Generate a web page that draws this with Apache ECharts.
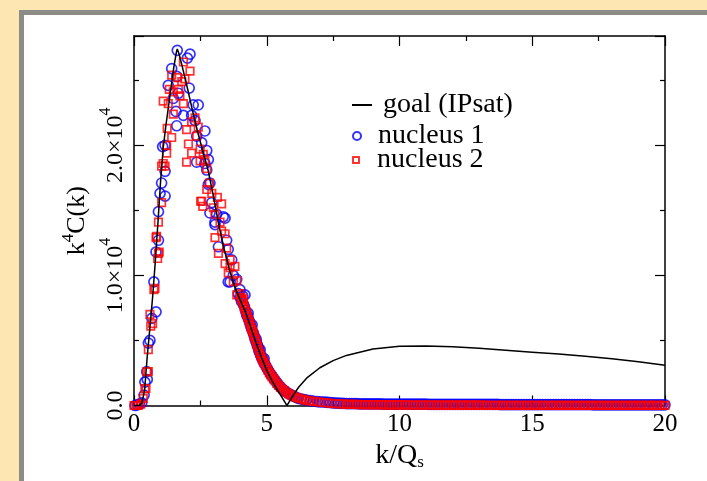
<!DOCTYPE html>
<html>
<head>
<meta charset="utf-8">
<script src="https://cdn.jsdelivr.net/npm/echarts@6/dist/echarts.min.js"></script>
<style>
html,body{margin:0;padding:0;background:#fee6b3;}
#chart{width:707px;height:481px;}
</style>
</head>
<body>
<div id="chart"></div>
<script>
// values in units of 10^4
const xTicks = [0, 5, 10, 15, 20];
const yTicks = [0, 1, 2];

const goalK = [0,0.2,0.3,0.4,0.5,0.6,0.7,0.8,0.9,1.0,1.1,1.2,1.3,1.4,1.5,1.6,1.63,1.7,1.8,2.0,2.2,2.4,2.6,2.8,3.0,3.2,3.4,3.6,3.8,4.0,4.2,4.4,4.6,4.8,5.0,5.2,5.4,5.55,5.7,5.76,5.85,6.0,6.2,6.5,7.0,7.5,8.0,9.0,10,11,12,13,14,15,16,17,18,19,20];
const goalV = [0,0,0.02,0.12,0.38,0.60,0.83,1.10,1.40,1.72,1.98,2.15,2.30,2.45,2.60,2.72,2.74,2.70,2.62,2.45,2.27,2.10,1.95,1.80,1.60,1.38,1.20,1.04,0.91,0.81,0.72,0.60,0.48,0.37,0.27,0.19,0.12,0.07,0.02,0.0,0.03,0.08,0.14,0.21,0.29,0.345,0.385,0.435,0.455,0.458,0.452,0.44,0.425,0.41,0.395,0.378,0.36,0.337,0.31];

const nucleus1Pts = [
[0.04,0.0],[0.12,0.005],[0.2,0.01],[0.29,0.02],[0.38,0.08],[0.41,0.18],[0.48,0.26],[0.50,0.20],[0.54,0.48],[0.60,0.50],
[0.67,0.67],[0.75,0.95],[0.83,0.72],[0.83,1.18],[0.92,1.27],[0.92,1.49],[0.98,1.63],[1.04,1.71],[1.08,1.99],[1.17,1.61],
[1.17,1.80],[1.17,2.0],[1.29,2.46],[1.42,2.59],[1.48,2.36],[1.58,2.26],[1.61,2.53],[1.61,2.15],[1.63,2.73],[1.67,2.40],
[1.86,2.23],[2.01,2.67],[2.08,2.44],[2.11,2.70],[2.17,2.23],[2.23,2.31],[2.30,2.19],[2.36,2.07],[2.36,1.87],[2.42,2.31],
[2.55,2.02],[2.67,2.11],[2.67,1.86],[2.74,1.96],[2.74,1.81],[2.80,1.89],[2.80,1.70],[2.86,1.71],[2.86,1.48],[2.93,1.56],
[3.05,1.41],[3.05,1.39],[3.11,1.47],[3.18,1.22],[3.36,1.45],[3.43,1.44],[3.49,1.27],[3.55,1.20],[3.55,0.95],[3.62,0.95],
[3.68,1.12],[3.74,1.0],[3.87,0.97],[3.99,0.89],[4.18,0.85],
[3.93,0.86],[4.0,0.83],[4.05,0.80],[4.1,0.84],[4.12,0.78],[4.16,0.76],[4.2,0.73],[4.24,0.70],[4.27,0.69],[4.3,0.67],
[4.3,0.71],[4.34,0.65],[4.37,0.63],[4.4,0.61],[4.43,0.59],[4.45,0.62],[4.49,0.56],[4.52,0.54],[4.55,0.52],[4.58,0.50],
[4.6,0.51],[4.62,0.48],[4.65,0.46],[4.67,0.45],[4.7,0.43],[4.72,0.41],[4.75,0.43],[4.77,0.39],[4.8,0.37],[4.84,0.36],
[4.87,0.34],[4.9,0.36],[4.92,0.32],[4.95,0.31],[5.0,0.29],[5.06,0.27],[5.1,0.255],[5.15,0.24],[5.2,0.225],[5.25,0.21],
[5.3,0.195],[5.37,0.18],[5.43,0.16],[5.5,0.145],[5.57,0.13],[5.65,0.115],[5.73,0.105],[5.81,0.094],[5.9,0.083],[6.0,0.072],
[6.1,0.063],[6.19,0.055],[6.3,0.05],[6.4,0.045],[6.5,0.041],[6.63,0.037],[6.75,0.033],[6.9,0.030],[7.0,0.028],[7.1,0.027],
[7.2,0.026],[7.3,0.024],[7.4,0.022],[7.5,0.02],[7.6,0.019],[7.7,0.018],[7.8,0.017],[7.9,0.016]
];

const nucleus2Pts = [
[0.0,0.0],[0.08,0.0],[0.16,0.0],[0.25,0.01],[0.35,0.055],[0.41,0.13],[0.45,0.13],[0.48,0.26],[0.54,0.26],[0.54,0.43],
[0.60,0.70],[0.63,0.61],[0.70,0.63],[0.75,0.89],[0.79,0.90],[0.83,1.29],[0.85,1.30],[0.89,1.13],[0.92,1.17],[0.92,1.41],
[0.95,1.18],[1.04,1.56],[1.04,1.84],[1.10,1.86],[1.10,2.34],[1.17,1.84],[1.23,1.94],[1.23,2.0],[1.25,2.13],[1.29,2.32],
[1.33,2.43],[1.42,2.06],[1.42,2.54],[1.48,2.24],[1.48,2.41],[1.64,2.52],[1.67,2.43],[1.73,2.38],[1.80,2.49],[1.86,2.64],
[1.86,2.32],[1.92,2.51],[1.98,2.12],[1.98,1.87],[2.05,2.01],[2.11,2.57],[2.17,2.18],[2.17,1.94],[2.30,2.21],[2.36,2.07],
[2.42,2.14],[2.49,1.97],[2.49,1.88],[2.51,1.57],[2.55,1.57],[2.59,1.53],[2.61,1.93],[2.67,1.89],[2.74,1.82],[2.74,1.66],
[2.84,1.71],[2.93,1.63],[2.99,1.52],[3.05,1.47],[3.05,1.29],[3.14,1.60],[3.18,1.17],[3.24,1.41],[3.30,1.55],[3.30,1.34],
[3.43,1.32],[3.43,1.09],[3.49,1.21],[3.55,1.02],[3.62,1.12],[3.62,1.06],[3.74,0.95],[3.80,1.07],[3.87,0.96],[3.87,0.85],
[3.99,0.86],[4.12,0.82],
[4.03,0.83],[4.06,0.81],[4.1,0.785],[4.15,0.76],[4.18,0.74],[4.22,0.72],[4.25,0.70],[4.28,0.68],[4.32,0.66],[4.35,0.64],
[4.38,0.62],[4.41,0.60],[4.44,0.585],[4.47,0.57],[4.5,0.55],[4.53,0.53],[4.57,0.51],[4.6,0.49],[4.63,0.47],[4.66,0.45],
[4.7,0.425],[4.74,0.40],[4.78,0.38],[4.82,0.36],[4.86,0.345],[4.9,0.33],[4.95,0.31],[5.0,0.29],[5.05,0.27],[5.1,0.25],
[5.15,0.235],[5.2,0.22],[5.26,0.205],[5.32,0.19],[5.38,0.17],[5.45,0.155],[5.52,0.14],[5.6,0.125],[5.67,0.112],[5.75,0.10],
[5.83,0.09],[5.92,0.08],[6.0,0.07],[6.1,0.062],[6.2,0.056],[6.3,0.05],[6.4,0.045],[6.5,0.04],[6.62,0.036],[6.75,0.032],
[6.88,0.029],[7.0,0.026],[7.15,0.023],[7.3,0.02],[7.45,0.017],[7.6,0.015],[7.75,0.013],[7.9,0.012]
];

const tailK = [8.0,8.1,8.2,8.3,8.4,8.5,8.6,8.7,8.8,8.9,9.0,9.1,9.2,9.3,9.4,9.5,9.6,9.7,9.8,9.9,
10.0,10.1,10.2,10.3,10.4,10.5,10.6,10.7,10.8,10.9,11.0,11.1,11.2,11.3,11.4,11.5,11.6,11.7,11.8,11.9,
12.0,12.1,12.2,12.3,12.4,12.5,12.6,12.7,12.8,12.9,13.0,13.1,13.2,13.3,13.4,13.5,13.6,13.7,13.8,13.9,
14.0,14.1,14.2,14.3,14.4,14.5,14.6,14.7,14.8,14.9,15.0,15.1,15.2,15.3,15.4,15.5,15.6,15.7,15.8,15.9,
16.0,16.1,16.2,16.3,16.4,16.5,16.6,16.7,16.8,16.9,17.0,17.1,17.2,17.3,17.4,17.5,17.6,17.7,17.8,17.9,
18.0,18.1,18.2,18.3,18.4,18.5,18.6,18.7,18.8,18.9,19.0,19.1,19.2,19.3,19.4,19.5,19.6,19.7,19.8,19.9,20.0];
const tail1 = [0.015,0.015,0.014,0.014,0.014,0.013,0.013,0.013,0.013,0.012,0.012,0.012,0.012,0.012,0.011,0.011,0.011,0.011,0.011,0.011,
0.010,0.010,0.010,0.010,0.010,0.010,0.010,0.010,0.010,0.010,0.010,0.009,0.009,0.009,0.009,0.009,0.009,0.009,0.009,0.009,
0.009,0.009,0.009,0.008,0.008,0.008,0.008,0.008,0.008,0.008,0.008,0.008,0.008,0.008,0.008,0.008,0.008,0.008,0.007,0.007,
0.007,0.007,0.007,0.007,0.007,0.007,0.007,0.007,0.007,0.007,0.007,0.007,0.007,0.007,0.006,0.006,0.006,0.006,0.006,0.006,
0.006,0.006,0.006,0.006,0.006,0.006,0.006,0.006,0.006,0.006,0.006,0.006,0.006,0.005,0.005,0.005,0.005,0.005,0.005,0.005,
0.005,0.005,0.005,0.005,0.005,0.005,0.005,0.005,0.005,0.005,0.005,0.005,0.005,0.005,0.005,0.005,0.005,0.005,0.005,0.005,0.005];
const tail2 = [0.009,0.009,0.008,0.008,0.008,0.007,0.007,0.007,0.007,0.006,0.006,0.006,0.006,0.006,0.005,0.005,0.005,0.005,0.005,0.005,
0.005,0.005,0.005,0.004,0.004,0.004,0.004,0.004,0.004,0.004,0.004,0.004,0.004,0.004,0.004,0.003,0.003,0.003,0.003,0.003,
0.003,0.003,0.003,0.003,0.003,0.003,0.003,0.003,0.003,0.003,0.003,0.003,0.002,0.002,0.002,0.002,0.002,0.002,0.002,0.002,
0.002,0.002,0.002,0.002,0.002,0.002,0.002,0.002,0.002,0.002,0.002,0.002,0.002,0.002,0.002,0.002,0.002,0.002,0.002,0.001,
0.001,0.001,0.001,0.001,0.001,0.001,0.001,0.001,0.001,0.001,0.001,0.001,0.001,0.001,0.001,0.001,0.001,0.001,0.001,0.001,
0.001,0.001,0.001,0.001,0.001,0.001,0.001,0.001,0.001,0.001,0.001,0.001,0.001,0.001,0.001,0.001,0.001,0.001,0.001,0.001,0.001];

const FONT = 'Liberation Serif';
const goalData = goalK.map((k, i) => [k, goalV[i]]);
const n1Data = nucleus1Pts.concat(tailK.map((k, i) => [k, tail1[i]]));
const n2Data = nucleus2Pts.concat(tailK.map((k, i) => [k, tail2[i]]));

const chart = echarts.init(document.getElementById('chart'), null, {renderer: 'canvas'});

const axisLine = {show: true, onZero: false, lineStyle: {color: '#000', width: 1.5}};
const tickIn = {show: true, inside: true, length: 10, lineStyle: {color: '#000', width: 1.2}};
const minorIn = {show: true, splitNumber: 2, length: 5, lineStyle: {color: '#000', width: 1.2}};

chart.setOption({
  backgroundColor: '#fee6b3',
  animation: false,
  graphic: [
    {type: 'rect', z: -100, shape: {x: 19, y: 10, width: 700, height: 480}, style: {fill: '#8c8c86'}},
    {type: 'rect', z: -99, shape: {x: 24, y: 15, width: 700, height: 480}, style: {fill: '#ffffff'}}
  ],
  grid: {left: 134, right: 42, top: 36, bottom: 75.5, show: false},
  legend: [
    {left: 352, top: 91, padding: 0, itemWidth: 20, itemHeight: 2,
     data: [{name: 'goal (IPsat)', icon: 'rect', itemStyle: {color: '#000'}}],
     textStyle: {fontFamily: FONT, fontSize: 28, color: '#000', padding: [0, 0, 0, 6]}},
    {left: 352, top: 122, padding: 0, itemWidth: 20, itemHeight: 8,
     data: [{name: 'nucleus 1', icon: 'circle'}],
     textStyle: {fontFamily: FONT, fontSize: 28, color: '#000', padding: [0, 0, 0, 6]}},
    {left: 352, top: 146, padding: 0, itemWidth: 20, itemHeight: 6,
     data: [{name: 'nucleus 2', icon: 'path://M0,0L1,0L1,1L0,1Z'}],
     textStyle: {fontFamily: FONT, fontSize: 28, color: '#000', padding: [0, 0, 0, 6]}}
  ],
  xAxis: [
    {type: 'value', min: 0, max: 20, interval: 5, position: 'bottom',
     axisLine, axisTick: tickIn, minorTick: minorIn, splitLine: {show: false},
     axisLabel: {fontFamily: FONT, fontSize: 25, color: '#000', margin: 6,
       formatter: v => xTicks.includes(v) ? String(v) : ''},
     name: '{a|k/Q}{s|s}', nameLocation: 'middle', nameGap: 24,
     nameTextStyle: {rich: {
       a: {fontFamily: FONT, fontSize: 28, color: '#000', lineHeight: 30, verticalAlign: 'top'},
       s: {fontFamily: FONT, fontSize: 17, color: '#000', lineHeight: 30, verticalAlign: 'bottom'}
     }}},
    {type: 'value', min: 0, max: 20, interval: 5, position: 'top',
     axisLine, axisTick: tickIn, minorTick: minorIn, splitLine: {show: false},
     axisLabel: {show: false}}
  ],
  yAxis: [
    {type: 'value', min: 0, max: 2.84, interval: 1, position: 'left',
     axisLine, axisTick: tickIn, minorTick: minorIn, splitLine: {show: false},
     axisLabel: {rotate: 90, margin: 6, showMaxLabel: false,
       formatter: v => {
         if (!yTicks.includes(v)) return '';
         return v === 0 ? '{a|0.0}' : '{a|' + v.toFixed(1) + '×10}{s|4}';
       },
       rich: {
         a: {fontFamily: FONT, fontSize: 24, color: '#000', lineHeight: 30, verticalAlign: 'bottom'},
         s: {fontFamily: FONT, fontSize: 16, color: '#000', lineHeight: 30, verticalAlign: 'top'}
       }},
     name: '{a|k}{s|4}{a|C(k)}', nameLocation: 'middle', nameGap: 44,
     nameTextStyle: {rich: {
       a: {fontFamily: FONT, fontSize: 26, color: '#000', lineHeight: 30, verticalAlign: 'bottom'},
       s: {fontFamily: FONT, fontSize: 17, color: '#000', lineHeight: 30, verticalAlign: 'top'}
     }}},
    {type: 'value', min: 0, max: 2.84, interval: 1, position: 'right',
     axisLine, axisTick: tickIn, minorTick: minorIn, splitLine: {show: false},
     axisLabel: {show: false}}
  ],
  series: [
    {name: 'nucleus 1', type: 'scatter', data: n1Data, symbol: 'circle', symbolSize: 10, z: 2,
     itemStyle: {color: 'rgba(0,0,0,0)', borderColor: '#0000ff', borderWidth: 1.7}},
    {name: 'nucleus 2', type: 'scatter', data: n2Data, symbol: 'rect', symbolSize: 7.5, z: 3,
     itemStyle: {color: 'rgba(0,0,0,0)', borderColor: '#ff0000', borderWidth: 1.7}},
    {name: 'goal (IPsat)', type: 'line', data: goalData, showSymbol: false, symbol: 'none', z: 4,
     lineStyle: {color: '#000', width: 1.5}, itemStyle: {color: '#000'}}
  ]
});
</script>
</body>
</html>
